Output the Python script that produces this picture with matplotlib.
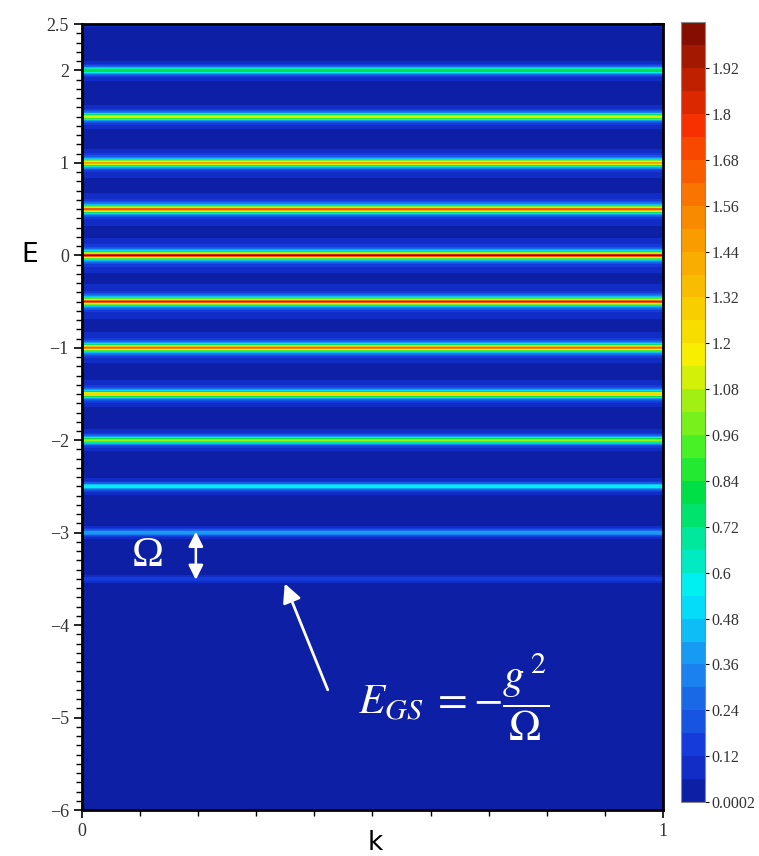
import matplotlib
matplotlib.use("Agg")
import matplotlib.pyplot as plt
import numpy as np
from matplotlib.colors import LinearSegmentedColormap
from matplotlib.ticker import MultipleLocator, FixedLocator, NullFormatter

plt.rcParams['mathtext.fontset'] = 'stix'

# Spectral peaks: energies and peak heights of the ladder of levels
peak_E = [2.5, 2.0, 1.5, 1.0, 0.5, 0.0, -0.5, -1.0, -1.5, -2.0, -2.5, -3.0, -3.5]
peak_A = [0.10, 0.82, 1.10, 1.50, 1.72, 2.00, 1.88, 1.66, 1.30, 1.02, 0.56, 0.40, 0.15]
gamma = 0.027

cbar_ticks = [0.0002, 0.12, 0.24, 0.36, 0.48, 0.6, 0.72, 0.84, 0.96, 1.08,
              1.2, 1.32, 1.44, 1.56, 1.68, 1.8, 1.92]
cbar_labels = ['0.0002', '0.12', '0.24', '0.36', '0.48', '0.6', '0.72', '0.84', '0.96',
               '1.08', '1.2', '1.32', '1.44', '1.56', '1.68', '1.8', '1.92']

k = np.linspace(0, 1, 40)
E = np.linspace(-6, 2.5, 3000)
A_E = np.zeros_like(E)
for e0, a0 in zip(peak_E, peak_A):
    A_E += a0 * gamma**2 / ((E - e0)**2 + gamma**2)
A_E = np.clip(A_E, 0, 2.03)
K, EE = np.meshgrid(k, E)
A = np.tile(A_E[:, None], (1, len(k)))

anchors = [(0.00, '#0a1a98'), (0.06, '#1434d8'), (0.17, '#1c88f0'), (0.27, '#00f0fc'),
           (0.40, '#00e040'), (0.45, '#40f028'), (0.57, '#f8f000'), (0.75, '#f88c00'),
           (0.87, '#f83000'), (1.00, '#780c00')]
cmap = LinearSegmentedColormap.from_list('spec', anchors)
levels = np.arange(0, 2.041, 0.06)

fig = plt.figure(figsize=(7.59, 8.56), dpi=100)
ax = fig.add_axes([0.108, 0.0537, 0.7655, 0.918])
cax = fig.add_axes([0.897, 0.063, 0.0316, 0.911])

cs = ax.contourf(K, EE, A, levels=levels, cmap=cmap, vmin=0, vmax=2.04)
ax.set_xlim(0, 1)
ax.set_ylim(-6, 2.5)

serif = 'Liberation Serif'
ax.yaxis.set_major_locator(FixedLocator([2.5, 2, 1, 0, -1, -2, -3, -4, -5, -6]))
ax.set_yticklabels(['2.5', '2', '1', '0', '\u22121', '\u22122', '\u22123', '\u22124', '\u22125', '\u22126'],
                   fontfamily=serif, fontsize=13, color='#333333')
ax.yaxis.set_minor_locator(MultipleLocator(0.1))
ax.xaxis.set_major_locator(FixedLocator([0, 1]))
ax.set_xticklabels(['0', '1'], fontfamily=serif, fontsize=13, color='#333333')
ax.xaxis.set_minor_locator(MultipleLocator(0.1))
ax.tick_params(which='major', direction='out', length=6, width=1.2)
ax.tick_params(which='minor', direction='out', length=4, width=1.0)
for s in ax.spines.values():
    s.set_linewidth(2)

# inward ticks on the right and top edges
sec = ax.secondary_yaxis('right')
sec.yaxis.set_major_locator(MultipleLocator(0.5))
sec.yaxis.set_minor_locator(MultipleLocator(0.1))
sec.yaxis.set_major_formatter(NullFormatter())
sec.tick_params(which='major', direction='in', length=8, width=1.5)
sec.tick_params(which='minor', direction='in', length=4, width=1.0)
sec.spines['right'].set_visible(False)
secx = ax.secondary_xaxis('top')
secx.xaxis.set_major_locator(MultipleLocator(0.1))
secx.xaxis.set_major_formatter(NullFormatter())
secx.tick_params(direction='in', length=4, width=1.0)
secx.spines['top'].set_visible(False)

ax.set_xlabel('k', fontsize=19, fontfamily='DejaVu Sans')
ax.xaxis.set_label_coords(0.504, -0.026)
ax.set_ylabel('E', fontsize=19, fontfamily='DejaVu Sans', rotation=0, va='center', ha='center')
ax.yaxis.set_label_coords(-0.09, 0.706)

# level spacing marker and ground-state arrow
ax.text(0.114, -3.25, '\u03a9', color='white', fontsize=31, fontfamily=serif,
        ha='center', va='center')
ax.annotate('', xy=(0.196, -2.99), xytext=(0.196, -3.51),
            arrowprops=dict(arrowstyle='<|-|>', color='white', lw=1.8,
                            mutation_scale=22, shrinkA=0, shrinkB=0))
ax.annotate('', xy=(0.349, -3.55), xytext=(0.423, -4.70),
            arrowprops=dict(arrowstyle='-|>', color='white', lw=2.0,
                            mutation_scale=28, shrinkA=0, shrinkB=0))
ax.text(0.64, -4.77, r'$E_{GS}\;=-\dfrac{g^{\,2}}{\Omega}$', color='white', fontsize=31,
        ha='center', va='center')

cb = fig.colorbar(cs, cax=cax, ticks=cbar_ticks)
cb.ax.set_yticklabels(cbar_labels, fontfamily=serif, fontsize=11.5, color='#333333')
cb.ax.tick_params(length=3, width=0.8, direction='out', pad=2)
cb.outline.set_linewidth(0.8)
cb.outline.set_edgecolor('#888888')

fig.savefig('out.png', dpi=100)
